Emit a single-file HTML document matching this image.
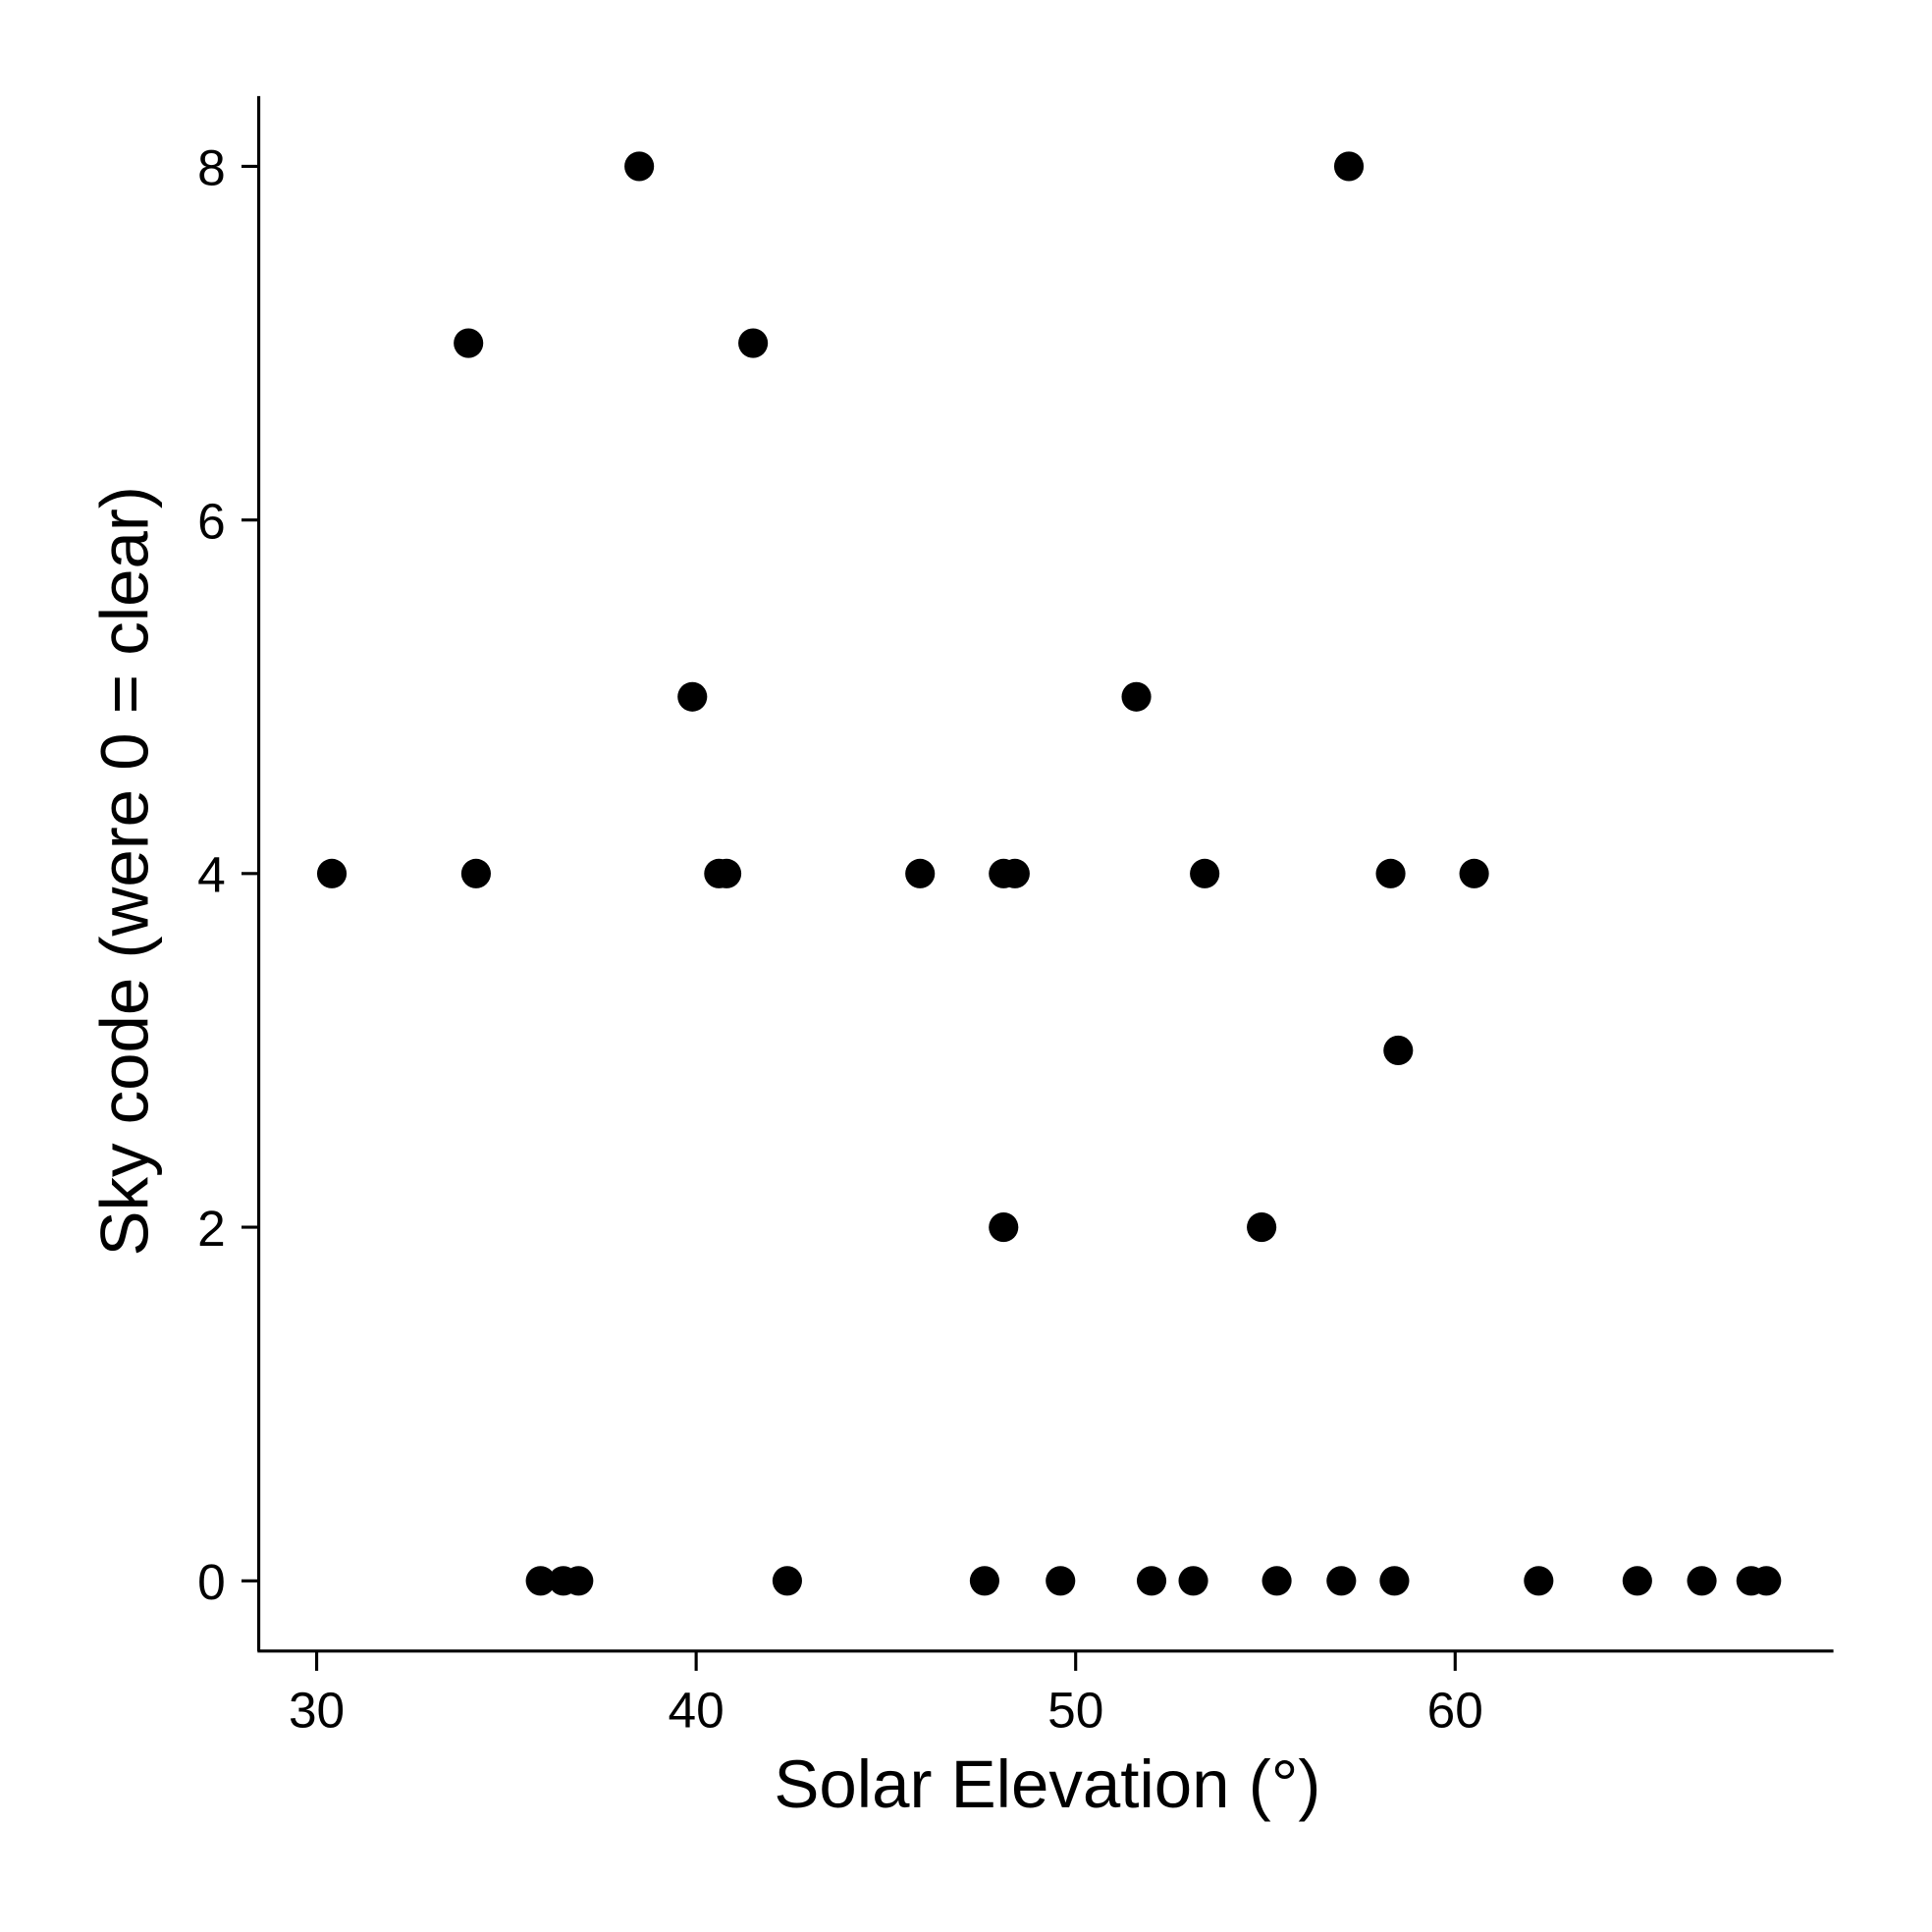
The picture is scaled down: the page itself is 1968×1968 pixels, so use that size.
<!DOCTYPE html>
<html><head><meta charset="utf-8"><style>
html,body{margin:0;padding:0;background:#fff;}
svg{display:block;font-family:"Liberation Sans",Arial,sans-serif;}
</style></head><body>
<svg id="chart" width="1968" height="1968" viewBox="0 0 1568 1568" xmlns="http://www.w3.org/2000/svg">
<g id="axes"></g>
<g id="points"></g>
<text x="850" y="1467" font-size="55" text-anchor="middle">Solar Elevation (°)</text>
<text transform="translate(120,707) rotate(-90)" font-size="55" text-anchor="middle">Sky code (were 0 = clear)</text>
</svg>
<script>
const elevation = [30.4,34.0,34.2,35.9,36.5,36.9,38.5,39.9,40.6,40.8,41.5,42.4,45.9,47.6,48.1,48.1,48.4,49.6,51.6,52.0,53.1,53.4,54.9,55.3,57.0,57.2,58.3,58.4,58.5,60.5,62.2,64.8,66.5,67.8,68.2];
const skyCode = [4,7,4,0,0,0,8,5,4,4,7,0,4,0,2,4,4,0,5,0,0,4,2,0,0,8,4,0,3,4,0,0,0,0,0];
const xTicks = [30,40,50,60];
const yTicks = [0,2,4,6,8];
const NS = "http://www.w3.org/2000/svg";
const xs = v => 257 + (v - 30) * 30.8;
const ys = v => 1283 - v * 143.5;
const axes = document.getElementById('axes');
function mk(tag, attrs, parent){const e=document.createElementNS(NS,tag);for(const k in attrs)e.setAttribute(k,attrs[k]);parent.appendChild(e);return e;}
let l = mk('line',{x1:210,y1:78,x2:210,y2:1340,stroke:'#000','stroke-width':2.5},axes);


l = mk('line',{x1:209,y1:1340,x2:1488,y2:1340,stroke:'#000','stroke-width':2.5},axes);


xTicks.forEach(t=>{
  const tk = mk('line',{x1:xs(t),y1:1340,x2:xs(t),y2:1356,stroke:'#000','stroke-width':2.5},axes);
  
  
  const tx = mk('text',{x:xs(t),y:1402,'font-size':41,'text-anchor':'middle'},axes);
  tx.textContent = t;
  
  
});
yTicks.forEach(t=>{
  const tk = mk('line',{x1:196,y1:ys(t),x2:210,y2:ys(t),stroke:'#000','stroke-width':2.5},axes);
  
  
  const tx = mk('text',{x:183,y:ys(t)+15,'font-size':41,'text-anchor':'end'},axes);
  tx.textContent = t;
  
  
});
const pts = document.getElementById('points');
elevation.forEach((v,i)=>{
  const c = mk('circle',{cx:xs(v),cy:ys(skyCode[i]),r:12,fill:'#000'},pts);
  
  
});
</script>
</body></html>
